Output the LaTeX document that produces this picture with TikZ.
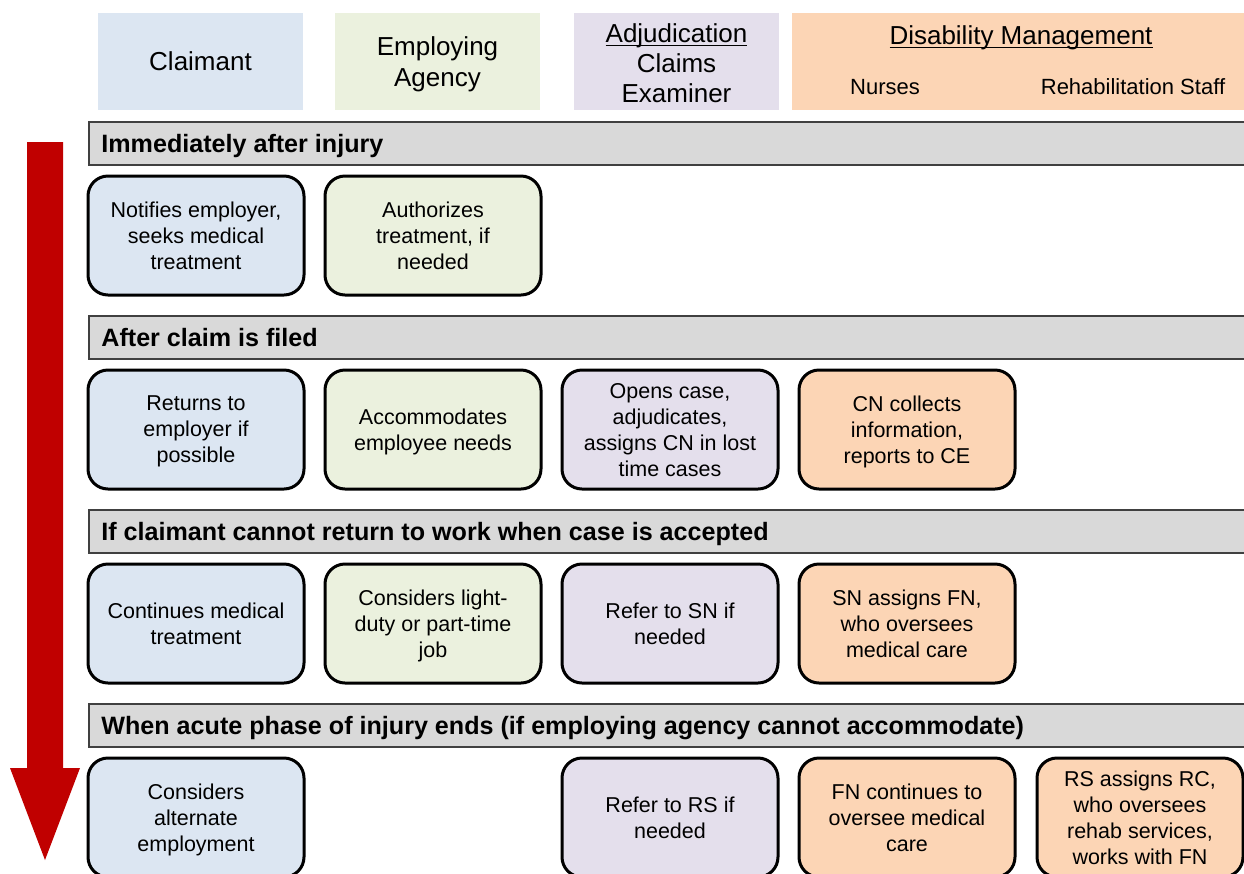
\documentclass[tikz,border=0pt]{standalone}
\usepackage{fontspec}
\setmainfont{Liberation Sans}
\usetikzlibrary{positioning}

\definecolor{clmblue}{HTML}{DCE6F2}
\definecolor{agcgreen}{HTML}{EBF1DE}
\definecolor{adjlilac}{HTML}{E4DFEC}
\definecolor{dmorange}{HTML}{FCD5B5}
\definecolor{bandgray}{HTML}{D9D9D9}
\definecolor{bandline}{HTML}{404040}
\definecolor{timered}{HTML}{C00000}

\newcommand{\ulhead}[1]{\underline{\raisebox{0pt}[\height][0pt]{#1}}}

\begin{document}
\begin{tikzpicture}[x=0.5pt, y=-0.5pt,
  head/.style={fill=#1, minimum width=102.5pt, minimum height=48.5pt,
    align=center, inner sep=0pt, text depth=0pt, font=\fontsize{13}{15.5}\selectfont},
  band/.style={draw=bandline, fill=bandgray, line width=0.75pt},
  bandtext/.style={anchor=west, inner sep=0pt, text depth=0pt,
    font=\fontsize{12.56}{14}\selectfont\bfseries},
  task/.style={draw=black, line width=1.5pt, rounded corners=10pt, fill=#1,
    minimum width=108pt, minimum height=59.5pt, align=center, inner sep=2pt,
    text depth=0pt, font=\fontsize{10.75}{13}\selectfont}]
  \useasboundingbox (0,0) rectangle (1244,874);
  \clip (0,0) rectangle (1244,874);

  % column headers
  \node[head=clmblue] (hclm) at (200.5,61.5) {Claimant};
  \node[head=agcgreen] (hagc) at (437.5,61.5) {Employing\\Agency};
  \node[head=adjlilac, font=\fontsize{13}{15}\selectfont] (hadj) at (676.5,61.5) {};
  \node[align=center, text depth=0pt, font=\fontsize{13}{15}\selectfont] (adjtitle)
    at (676.5,63.5) {\ulhead{Adjudication}\\Claims\\Examiner};
  \node[head=dmorange, minimum width=229pt] (hdm) at (1021,61.5) {};
  \node[font=\fontsize{13}{15}\selectfont, text depth=0pt] (dmtitle) at (1021,35)
    {\ulhead{Disability Management}};
  \node[font=\fontsize{11}{13}\selectfont] (nurses) at (885,87) {Nurses};
  \node[font=\fontsize{11}{13}\selectfont] (rehab) at (1133,87) {Rehabilitation Staff};

  % time arrow
  \fill[timered] (27,142) -- (63,142) -- (63,768) -- (80,768) -- (45,860)
    -- (10,768) -- (27,768) -- cycle;

  % phase bands
  \draw[band] (89,122) rectangle (1252,165);
  \node[bandtext] (p1) at (101,143.5) {Immediately after injury};
  \draw[band] (89,316) rectangle (1252,359);
  \node[bandtext] (p2) at (101,337.5) {After claim is filed};
  \draw[band] (89,510) rectangle (1252,553);
  \node[bandtext] (p3) at (101,531.5) {If claimant cannot return to work when case is accepted};
  \draw[band] (89,704) rectangle (1252,747);
  \node[bandtext] (p4) at (101,725.5) {When acute phase of injury ends (if employing agency cannot accommodate)};

  % immediately after injury
  \node[task=clmblue] (t11) at (196,235.5) {Notifies employer,\\seeks medical\\treatment};
  \node[task=agcgreen] (t12) at (433,235.5) {Authorizes\\treatment, if\\needed};

  % after claim is filed
  \node[task=clmblue] (t21) at (196,429.5) {Returns to\\employer if\\possible};
  \node[task=agcgreen] (t22) at (433,429.5) {Accommodates\\employee needs};
  \node[task=adjlilac] (t23) at (670,429.5) {Opens case,\\adjudicates,\\assigns CN in lost\\time cases};
  \node[task=dmorange] (t24) at (907,429.5) {CN collects\\information,\\reports to CE};

  % cannot return to work
  \node[task=clmblue] (t31) at (196,623.5) {Continues medical\\treatment};
  \node[task=agcgreen] (t32) at (433,623.5) {Considers light-\\duty or part-time\\job};
  \node[task=adjlilac] (t33) at (670,623.5) {Refer to SN if\\needed};
  \node[task=dmorange] (t34) at (907,623.5) {SN assigns FN,\\who oversees\\medical care};

  % acute phase ends
  \node[task=clmblue] (t41) at (196,817.5) {Considers\\alternate\\employment};
  \node[task=adjlilac] (t43) at (670,817.5) {Refer to RS if\\needed};
  \node[task=dmorange] (t44) at (907,817.5) {FN continues to\\oversee medical\\care};
  \node[task=dmorange, minimum width=103pt] (t45) at (1140,817.5)
    {RS assigns RC,\\who oversees\\rehab services,\\works with FN};
\end{tikzpicture}
\end{document}
